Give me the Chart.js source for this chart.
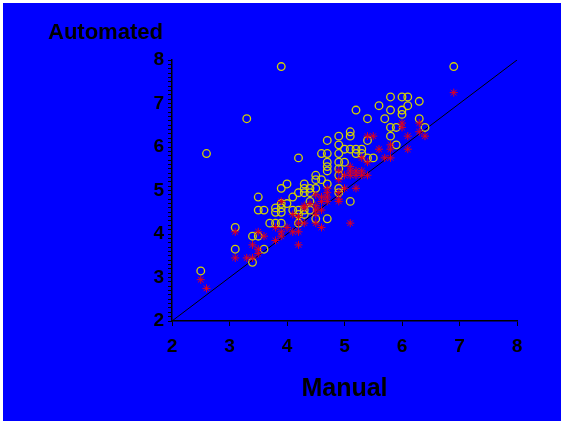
<!DOCTYPE html>
<html>
<head>
<meta charset="utf-8">
<script src="https://cdn.jsdelivr.net/npm/chart.js@4/dist/chart.umd.min.js"></script>
<style>
  html, body { margin: 0; padding: 0; background: #ffffff; }
  #wrap { position: absolute; left: 3px; top: 3px; width: 558px; height: 418px; background: #0000ff; }
</style>
</head>
<body>
<div id="wrap"><canvas id="chart" width="558" height="418"></canvas></div>
<script>
  // yellow circles: manual vs automated
  const circleManual = [2.5, 2.6, 3.1, 3.1, 3.3, 3.4, 3.4, 3.5, 3.6, 3.5, 3.6, 3.5, 3.7, 3.8, 3.9, 3.8, 3.8, 3.9, 3.9, 3.9,
    4.0, 3.9, 4.0, 3.9, 4.1, 4.2, 4.1, 4.2, 4.2, 4.3, 4.2, 4.2, 4.3, 4.3, 4.3, 4.4, 4.4, 4.5, 4.4, 4.3,
    4.4, 4.5, 4.5, 4.5, 4.6, 4.7, 4.7, 4.6, 4.7, 4.7, 4.7, 4.7, 4.7, 4.9, 4.9, 4.9, 4.9, 5.0, 4.9, 4.9,
    4.9, 4.9, 5.1, 5.0, 5.1, 5.2, 5.3, 5.2, 5.3, 5.1, 5.1, 5.2, 5.4, 5.4, 5.4, 5.5, 5.6, 5.7, 5.8, 6.0,
    6.1, 5.8, 6.0, 6.0, 6.1, 6.3, 6.3, 5.8, 5.9, 6.4, 5.8, 5.9, 6.9];
  const circleAuto = [3.15, 5.85, 4.15, 3.65, 6.65, 3.35, 3.95, 3.95, 3.65, 4.55, 4.55, 4.85, 4.25, 4.25, 4.25, 4.5, 4.6, 4.5, 4.6, 4.7,
    4.7, 5.05, 5.15, 7.85, 4.85, 4.95, 4.55, 4.55, 4.45, 4.45, 4.25, 5.75, 5.15, 5.05, 4.95, 5.05, 4.95, 5.05, 4.75, 4.55,
    4.55, 4.35, 5.35, 5.25, 5.25, 5.15, 4.35, 5.85, 5.85, 6.15, 5.65, 5.55, 5.45, 6.25, 6.05, 5.85, 5.65, 5.65, 5.5, 5.35,
    5.05, 4.95, 4.75, 5.95, 5.95, 5.95, 5.95, 5.85, 5.85, 6.35, 6.25, 6.85, 6.65, 6.15, 5.75, 5.75, 6.95, 6.65, 7.15, 7.15,
    7.15, 6.85, 6.85, 6.75, 6.95, 7.05, 6.65, 6.45, 6.45, 6.45, 6.25, 6.05, 7.85];

  // red asterisks: manual vs automated
  const starManual = [2.5, 2.6, 3.1, 3.1, 3.3, 3.4, 3.4, 3.5, 3.6, 3.5, 3.5, 3.8, 3.8, 3.9, 3.9, 4.0, 3.9, 4.1, 4.2, 4.2,
    4.1, 4.2, 4.2, 4.3, 4.3, 4.4, 4.3, 4.5, 4.6, 4.6, 4.5, 4.5, 4.6, 4.5, 4.5, 4.6, 4.7, 4.7, 4.7, 4.7,
    4.9, 4.9, 4.9, 4.9, 4.9, 5.0, 5.2, 5.1, 5.0, 5.1, 5.2, 5.3, 5.4, 5.1, 5.2, 5.3, 5.1, 5.4, 5.3, 5.4,
    5.5, 5.6, 5.7, 5.8, 5.8, 5.8, 6.0, 6.0, 6.1, 6.1, 6.3, 6.3, 6.4, 6.9];
  const starAuto = [2.95, 2.75, 4.05, 3.45, 3.45, 3.45, 3.75, 4.05, 3.95, 3.65, 3.55, 3.85, 4.15, 4.05, 3.95, 4.15, 4.75, 4.45, 4.4, 4.25,
    4.05, 4.05, 3.75, 4.65, 4.6, 4.7, 4.25, 4.9, 4.85, 4.75, 4.65, 4.55, 4.55, 4.45, 4.25, 4.15, 5.05, 4.95, 4.85, 4.75,
    4.95, 4.8, 4.75, 5.25, 5.45, 5.05, 5.05, 4.25, 5.35, 5.35, 5.35, 5.35, 5.35, 5.45, 5.45, 5.45, 5.55, 5.65, 5.75, 6.25,
    6.25, 5.95, 5.75, 5.75, 6.05, 5.95, 6.55, 6.45, 6.25, 5.95, 6.55, 6.35, 6.25, 7.25];

  // line of identity
  const identityLine = [2, 8];
  const axisMin = 2;
  const axisMax = 8;
  const xTicks = [2, 3, 4, 5, 6, 7, 8];

  const toPoints = (xs, ys) => xs.map((x, i) => ({ x: x, y: ys[i] }));

  const boldFont = (size) => ({ family: '"Liberation Sans", Arial, sans-serif', size: size, weight: 'bold' });

  const yLabel = {
    id: 'yLabel',
    afterDraw(chart) {
      const ctx = chart.ctx;
      ctx.save();
      ctx.fillStyle = '#000000';
      ctx.font = 'bold 22px "Liberation Sans", Arial, sans-serif';
      ctx.textBaseline = 'alphabetic';
      ctx.textAlign = 'left';
      ctx.fillText('Automated', 45, 36);
      ctx.restore();
    }
  };

  new Chart(document.getElementById('chart'), {
    type: 'scatter',
    data: {
      datasets: [
        {
          label: 'Automated (*)',
          data: toPoints(starManual, starAuto),
          pointStyle: 'star',
          pointRadius: 4,
          borderWidth: 1,
          borderColor: '#e0001c',
          backgroundColor: '#e0001c'
        },
        {
          label: 'Automated (o)',
          data: toPoints(circleManual, circleAuto),
          pointStyle: 'circle',
          pointRadius: 3.8,
          borderWidth: 1.3,
          borderColor: '#d4d400',
          backgroundColor: 'rgba(0,0,0,0)'
        },
        {
          type: 'line',
          label: 'identity',
          data: toPoints(identityLine, identityLine),
          borderColor: '#000000',
          borderWidth: 1,
          pointRadius: 0,
          fill: false
        }
      ]
    },
    options: {
      responsive: false,
      animation: false,
      layout: { padding: { left: 0, right: 44, top: 57, bottom: 0 } },
      plugins: {
        legend: { display: false },
        tooltip: { enabled: false }
      },
      scales: {
        x: {
          type: 'linear',
          min: axisMin,
          max: axisMax,
          afterBuildTicks: (scale) => { scale.ticks = xTicks.map(v => ({ value: v })); },
          afterFit: (scale) => { scale.height = 100; },
          grid: { drawOnChartArea: false, color: '#000000', tickLength: 5, tickWidth: 1 },
          border: { color: '#000000', width: 1.5 },
          ticks: { color: '#000000', font: boldFont(19), padding: 9, autoSkip: false, maxRotation: 0 },
          title: { display: true, text: 'Manual', color: '#000000', font: boldFont(25), padding: { top: 0, bottom: 17 } }
        },
        y: {
          type: 'linear',
          min: axisMin,
          max: axisMax,
          afterBuildTicks: (scale) => {
            const t = [];
            for (let i = axisMin * 10; i <= axisMax * 10; i++) t.push({ value: i / 10 });
            scale.ticks = t;
          },
          afterFit: (scale) => { scale.width = 169; },
          grid: { drawOnChartArea: false, color: '#000000', tickLength: 4, tickWidth: 1 },
          border: { color: '#000000', width: 1.5 },
          ticks: {
            color: '#000000',
            font: boldFont(19),
            padding: 4,
            autoSkip: false,
            callback: (v) => (Math.abs(v - Math.round(v)) < 1e-6 ? String(Math.round(v)) : '')
          }
        }
      }
    },
    plugins: [yLabel]
  });
</script>
</body>
</html>
